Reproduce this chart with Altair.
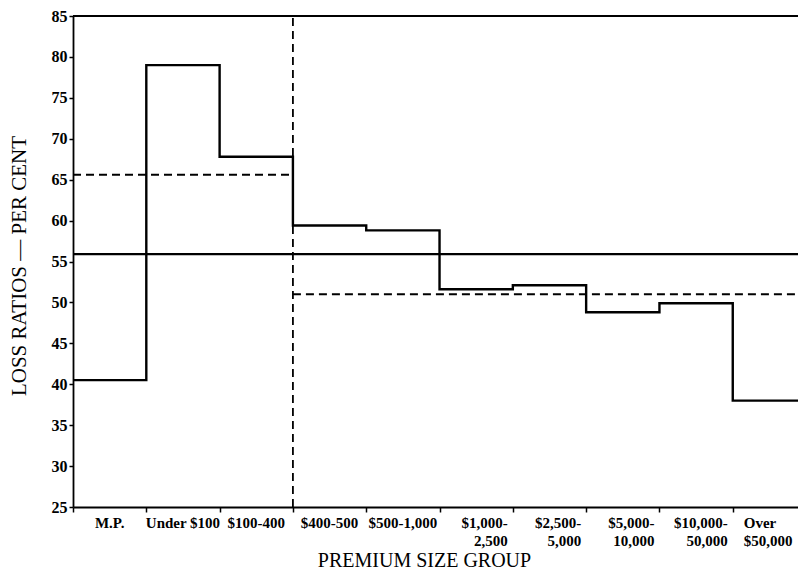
import altair as alt
import pandas as pd

# ---- data ----
categories = ["M.P.", "Under $100", "$100-400", "$400-500", "$500-1,000",
              "$1,000-2,500", "$2,500-5,000", "$5,000-10,000",
              "$10,000-50,000", "Over $50,000"]
tick_labels = ["M.P.", "Under $100", "$100-400", "$400-500", "$500-1,000",
               "$1,000-\n2,500", "$2,500-\n5,000", "$5,000-\n10,000",
               "$10,000-\n50,000", "Over\n$50,000"]
loss_ratios = [40.5, 79.0, 67.8, 59.4, 58.8, 51.6, 52.1, 48.8, 49.9, 38.0]
overall_average = 55.9
small_risks_average = 65.6   # M.P. .. $100-400
large_risks_average = 51.0   # $400-500 .. Over $50,000
split_index = 3
y_ticks = [25, 30, 35, 40, 45, 50, 55, 60, 65, 70, 75, 80, 85]

n = len(categories)
step_df = pd.DataFrame({
    "pos": list(range(n + 1)),
    "ratio": loss_ratios + [loss_ratios[-1]],
})
solid_df = pd.DataFrame({"x": [0, 0], "x2": [n, n], "y": [overall_average, 85]})
dash_h_df = pd.DataFrame({"x": [0, split_index], "x2": [split_index, n],
                          "y": [small_risks_average, large_risks_average]})
dash_v_df = pd.DataFrame({"x": [split_index], "y": [25], "y2": [85]})

center_df = pd.DataFrame({"pos": [i + 0.5 for i in range(5)], "label": tick_labels[:5]})
right_df = pd.DataFrame({"pos": [i + 1 for i in range(5, 9)], "label": tick_labels[5:9]})
left_df = pd.DataFrame({"pos": [9], "label": tick_labels[9:]})

FONT = "Liberation Serif"
PLOT_W, PLOT_H = 725, 491

# the reference's right edge is cut by the page: the last group runs past it
x_scale = alt.Scale(domain=[0, 9.89], nice=False, zero=False)
y_scale = alt.Scale(domain=[25, 85], nice=False, zero=False)

x_axis = alt.Axis(
    values=list(range(n + 1)),
    labels=False,
    tickSize=5, tickWidth=1.5, tickColor="black",
    domainColor="black", domainWidth=1.8,
    grid=False,
    title="PREMIUM SIZE GROUP",
    titleFont=FONT, titleFontSize=20, titleFontWeight="normal", titleColor="black",
    titleX=351, titleY=53, titleBaseline="middle", titleAlign="center",
)

y_axis = alt.Axis(
    values=y_ticks,
    labelFont=FONT, labelFontWeight="bold", labelFontSize=16, labelColor="black",
    labelPadding=2,
    tickSize=4, tickWidth=1.5, tickColor="black",
    domainColor="black", domainWidth=1.8,
    grid=False,
    title="LOSS RATIOS — PER CENT",
    titleFont=FONT, titleFontSize=21, titleFontWeight="normal", titleColor="black",
    titleAngle=270, titleX=-54, titleY=PLOT_H / 2 + 4, titleBaseline="middle",
    titleAlign="center",
)

X = lambda f: alt.X(f, scale=x_scale, axis=x_axis)
Y = lambda f: alt.Y(f, scale=y_scale, axis=y_axis)

step = alt.Chart(step_df).mark_line(
    interpolate="step-after", color="black", strokeWidth=2.4
).encode(x=X("pos:Q"), y=Y("ratio:Q"))

solid = alt.Chart(solid_df).mark_rule(color="black", strokeWidth=2.2).encode(
    x=X("x:Q"), x2="x2:Q", y=Y("y:Q"),
)

dash_h = alt.Chart(dash_h_df).mark_rule(
    color="black", strokeWidth=1.8, strokeDash=[8, 5]
).encode(x=X("x:Q"), x2="x2:Q", y=Y("y:Q"))

dash_v = alt.Chart(dash_v_df).mark_rule(
    color="black", strokeWidth=1.8, strokeDash=[8, 5]
).encode(x=X("x:Q"), y=Y("y:Q"), y2="y2:Q")


def label_layer(df, align, dx):
    return alt.Chart(df).mark_text(
        align=align, baseline="top", dx=dx, lineBreak="\n", lineHeight=18,
        font=FONT, fontWeight="bold", fontSize=15, color="black",
    ).encode(
        x=X("pos:Q"),
        y=alt.value(PLOT_H + 9),
        text="label:N",
    )


labels = [label_layer(center_df, "center", 0),
          label_layer(right_df, "right", -5),
          label_layer(left_df, "left", 11)]

chart = alt.layer(step, solid, dash_h, dash_v, *labels).properties(
    width=PLOT_W, height=PLOT_H,
    autosize=alt.AutoSizeParams(type="none"),
    padding={"left": 65, "top": 8, "right": 0, "bottom": 63},
    background="white",
).configure_view(stroke=None).configure_axis(
    labelFont=FONT, labelFontWeight="bold", labelColor="black",
    titleFont=FONT, titleFontWeight="normal", titleColor="black",
    domainColor="black", tickColor="black", grid=False,
)

chart.save("out.html", embed_options={"renderer": "svg", "actions": False})
